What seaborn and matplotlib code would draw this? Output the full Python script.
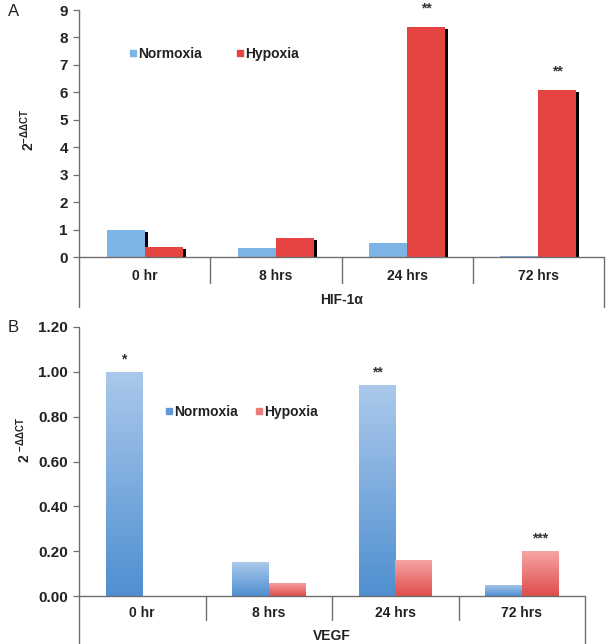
import numpy as np
import pandas as pd
import matplotlib
matplotlib.use("Agg")
import matplotlib.pyplot as plt
import matplotlib.patheffects as pe
from matplotlib.colors import LinearSegmentedColormap
import seaborn as sns

sns.set_theme(style="white")
plt.rcParams['font.family'] = ['Liberation Sans', 'DejaVu Sans']

# ---- data ----
timepoints = ["0 hr", "8 hrs", "24 hrs", "72 hrs"]
conditions = ["Normoxia", "Hypoxia"]
hif_normoxia = [1.0, 0.34, 0.50, 0.02]
hif_hypoxia = [0.38, 0.70, 8.38, 6.10]
vegf_normoxia = [1.00, 0.15, 0.94, 0.05]
vegf_hypoxia = [0.0, 0.06, 0.16, 0.20]
hif_stars = ["", "", "**", "**"]
vegf_stars = ["*", "", "**", "***"]

df_hif = pd.DataFrame({
    "time": timepoints * 2,
    "cond": ["Normoxia"] * 4 + ["Hypoxia"] * 4,
    "val": hif_normoxia + hif_hypoxia,
})
df_vegf = pd.DataFrame({
    "time": timepoints * 2,
    "cond": ["Normoxia"] * 4 + ["Hypoxia"] * 4,
    "val": vegf_normoxia + vegf_hypoxia,
})

W, H = 607, 644
fig = plt.figure(figsize=(W / 100, H / 100), dpi=100)

def axrect(x0, x1, ytop, ybot):
    return [x0 / W, 1 - ybot / H, (x1 - x0) / W, (ybot - ytop) / H]

axA = fig.add_axes(axrect(79, 604, 10, 257))
axB = fig.add_axes(axrect(79, 585, 327, 596))

line_col = "#6e6e6e"
tick_font = dict(fontsize=10, fontweight="bold", color="#222222")

def style_axis(ax, ytop_frac_ext_tick, ext_axis, right_ext):
    for s in ax.spines.values():
        s.set_visible(False)
    ax.set_xlabel("")
    ax.set_ylabel("")
    ax.set_xticks([])
    ax.tick_params(axis="y", which="both", left=True, length=4, width=0.9,
                   color=line_col, pad=4)
    for lab in ax.get_yticklabels():
        lab.set_fontweight("bold")
        lab.set_fontsize(11)
        lab.set_color("#222222")
    tr = ax.transAxes
    ax.plot([0, 0], [-ext_axis, 1], transform=tr, color=line_col, lw=1, clip_on=False)
    ax.plot([0, 1], [0, 0], transform=tr, color=line_col, lw=1, clip_on=False)
    for i in range(1, 4):
        ax.plot([i / 4, i / 4], [0, -ytop_frac_ext_tick], transform=tr,
                color=line_col, lw=1, clip_on=False)
    ax.plot([1, 1], [0, -right_ext], transform=tr, color=line_col, lw=1, clip_on=False)
    for i, t in enumerate(timepoints):
        ax.text((i + 0.5) / 4, -ytop_frac_ext_tick * 0.72, t, transform=tr,
                ha="center", va="center", **tick_font)

# ---------- Panel A ----------
palA = {"Normoxia": "#7db4e6", "Hypoxia": "#e64343"}
sns.barplot(data=df_hif, x="time", y="val", hue="cond", order=timepoints,
            hue_order=conditions, palette=palA, width=0.58, gap=0,
            saturation=1, ax=axA, legend=False, errorbar=None, linewidth=0)
axA.set_xlim(-0.5, 3.5)
axA.set_ylim(0, 9)
axA.set_yticks(range(0, 10))
for p in axA.patches:
    p.set_path_effects([pe.SimplePatchShadow(offset=(2.2, -1.5), shadow_rgbFace="black", alpha=1), pe.Normal()])
style_axis(axA, 26 / 247, 50 / 247, 50 / 247)
axA.text(0.5, -43 / 247, "HIF-1α", transform=axA.transAxes, ha="center", va="center", **tick_font)
for i, s in enumerate(hif_stars):
    if s:
        axA.annotate(s, (i + 0.145, hif_hypoxia[i]), xytext=(0, 8), textcoords="offset points",
                     ha="center", va="bottom", fontsize=10, fontweight="bold", color="#333333")
# legend A
for x, c, lab in [(133, palA["Normoxia"], "Normoxia"), (240, palA["Hypoxia"], "Hypoxia")]:
    fig.patches.append(plt.Rectangle(((x - 3) / W, 1 - 56 / H), 6 / W, 6 / H,
                                     transform=fig.transFigure, color=c))
    fig.text((x + 5) / W, 1 - 54 / H, lab, ha="left", va="center", **tick_font)
fig.text(8 / W, 1 - 12 / H, "A", ha="left", va="center", fontsize=12, color="#222222")
fig.text(28 / W, 1 - 130 / H, r"2$^{\mathregular{-ΔΔCT}}$", rotation=90, ha="center", va="center",
         fontsize=10, fontweight="bold", color="#222222")

# ---------- Panel B ----------
palB = {"Normoxia": "#6fa3dc", "Hypoxia": "#ec7b7a"}
sns.barplot(data=df_vegf, x="time", y="val", hue="cond", order=timepoints,
            hue_order=conditions, palette=palB, width=0.58, gap=0,
            saturation=1, ax=axB, legend=False, errorbar=None, linewidth=0)
axB.set_xlim(-0.5, 3.5)
axB.set_ylim(0, 1.2)
axB.set_yticks(np.arange(0, 1.21, 0.2))
axB.set_yticklabels([f"{v:.2f}" for v in np.arange(0, 1.21, 0.2)])
cmaps = {
    "Normoxia": LinearSegmentedColormap.from_list("nb", ["#4f8fd1", "#abc9eb"]),
    "Hypoxia": LinearSegmentedColormap.from_list("rb", ["#df4d4b", "#f6a5a4"]),
}
grad = np.linspace(0, 1, 256).reshape(-1, 1)
n = len(timepoints)
for k, p in enumerate(list(axB.patches)):
    cond = conditions[k // n]
    x0, y0 = p.get_x(), p.get_y()
    w, h = p.get_width(), p.get_height()
    if h <= 0:
        continue
    im = axB.imshow(grad, extent=[x0, x0 + w, y0, y0 + h], origin="lower",
                    cmap=cmaps[cond], aspect="auto", zorder=p.get_zorder())
    im.set_clip_path(p)
    p.set_alpha(0.0)
axB.set_xlim(-0.5, 3.5)
axB.set_ylim(0, 1.2)
style_axis(axB, 24 / 269, 48 / 269, 48 / 269)
axB.text(0.5, -40 / 269, "VEGF", transform=axB.transAxes, ha="center", va="center", **tick_font)
for i, s in enumerate(vegf_stars):
    if s:
        top = max(vegf_normoxia[i], vegf_hypoxia[i])
        xo = -0.145 if vegf_normoxia[i] >= vegf_hypoxia[i] else 0.145
        axB.annotate(s, (i + xo, top), xytext=(0, 4), textcoords="offset points",
                     ha="center", va="bottom", fontsize=10, fontweight="bold", color="#333333")
for x, c, lab in [(169, "#5f9ad8", "Normoxia"), (259, "#ec7b7a", "Hypoxia")]:
    fig.patches.append(plt.Rectangle(((x - 3) / W, 1 - 414 / H), 6 / W, 6 / H,
                                     transform=fig.transFigure, color=c))
    fig.text((x + 5) / W, 1 - 412 / H, lab, ha="left", va="center", **tick_font)
fig.text(8 / W, 1 - 327 / H, "B", ha="left", va="center", fontsize=12, color="#222222")
fig.text(24 / W, 1 - 440 / H, r"2 $^{\mathregular{-ΔΔCT}}$", rotation=90, ha="center", va="center",
         fontsize=10, fontweight="bold", color="#222222")

fig.savefig("out.png", dpi=100)
